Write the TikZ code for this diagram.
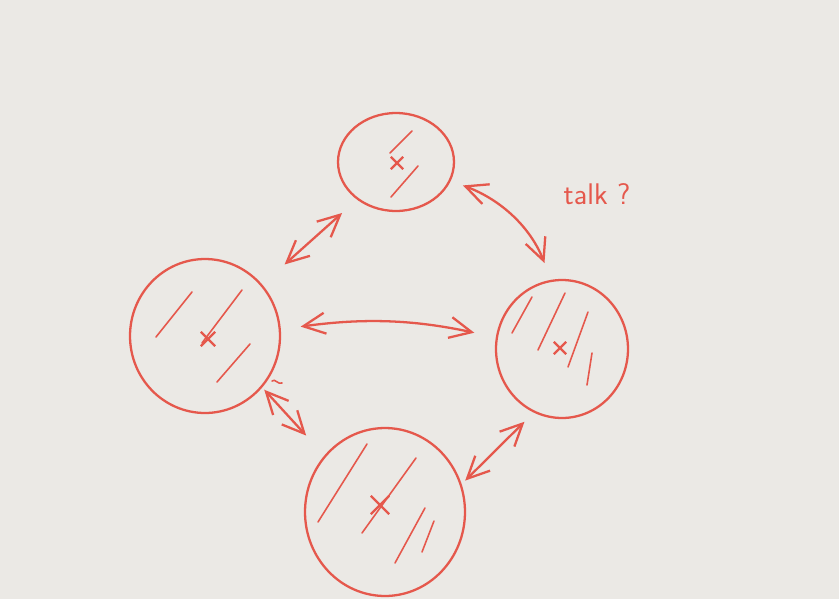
\documentclass[tikz,border=0pt]{standalone}
\usetikzlibrary{shapes.geometric,shapes.misc,arrows.meta}
\definecolor{paper}{RGB}{235,233,229}
\definecolor{pen}{RGB}{229,88,76}
\begin{document}
\begin{tikzpicture}[x=0.02cm,y=-0.02cm,
    blob/.style={ellipse,draw=pen,line width=1.3pt,inner sep=0pt},
    xmark/.style={cross out,draw=pen,line width=1.3pt,minimum size=0.2cm,inner sep=0pt},
    hatch/.style={draw=pen,line width=0.9pt,line cap=round},
    talk/.style={draw=pen,line width=1.3pt,line cap=round,
      {Straight Barb[length=0.44cm,width=0.42cm]}-{Straight Barb[length=0.44cm,width=0.42cm]}}]
    \useasboundingbox (0,0) rectangle (839,599);
    \fill[paper] (0,0) rectangle (839,599);
        % peers
        \node[blob,minimum width=2.32cm,minimum height=1.96cm] (t) at (396,162) {};
        \node[blob,minimum width=3cm,minimum height=3.08cm] (l) at (205,336) {};
        \node[blob,minimum width=2.64cm,minimum height=2.76cm] (r) at (562,349) {};
        \node[blob,minimum width=3.2cm,minimum height=3.36cm] (b) at (385,512) {};
        % centres
        \node[xmark] (tx) at (397,163) {};
        \node[xmark,minimum size=0.24cm] (lx) at (208,339) {};
        \node[xmark] (rx) at (560,348) {};
        \node[xmark,minimum size=0.32cm] (bx) at (380,505) {};
        % hatching
        \draw[hatch] (390,153) -- (412,131);
        \draw[hatch] (391,197) -- (418,166);
        \draw[hatch] (156,337) -- (192,292);
        \draw[hatch] (202,343) -- (242,290);
        \draw[hatch] (217,382) -- (250,344);
        \draw[hatch] (512,333) -- (532,297);
        \draw[hatch] (538,350) -- (565,293);
        \draw[hatch] (568,367) -- (588,312);
        \draw[hatch] (587,385) -- (592,353);
        \draw[hatch] (318,522) -- (367,444);
        \draw[hatch] (362,533) -- (416,458);
        \draw[hatch] (395,563) -- (425,508);
        \draw[hatch] (422,552) -- (434,521);
        \draw[hatch] (272,381) .. controls (275,378) and (278,385) .. (282,383);
        % links
        \draw[talk,shorten <=0.6cm,shorten >=0.4cm] (l.42) -- (t.224);
        \draw[talk,shorten <=0.26cm,shorten >=0.36cm] (t.341) to[bend left=24] (r.99);
        \draw[talk,shorten <=0.4cm,shorten >=0.44cm] (l.5) to[bend left=10] (r.170);
        \draw[talk,shorten <=0.06cm,shorten >=0.54cm] (l.318) -- (b.137);
        \draw[talk,shorten <=0.1cm,shorten >=0.26cm] (b.20) -- (r.246);
        % label
        \node[text=pen,font=\fontsize{17}{20}\sffamily] (q) at (597,194) {talk ?};
\end{tikzpicture}
\end{document}
